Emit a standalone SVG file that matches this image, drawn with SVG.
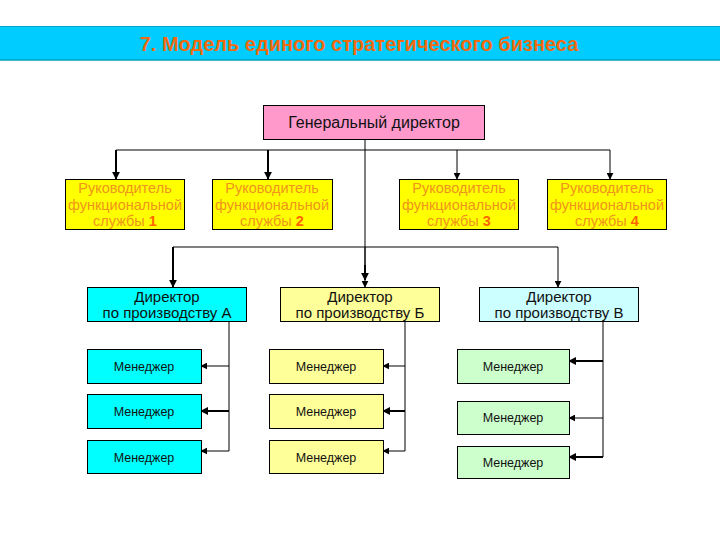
<svg xmlns="http://www.w3.org/2000/svg" width="720" height="540" viewBox="0 0 720 540">
<style>
text{font-family:"Liberation Sans",Arial,sans-serif;text-anchor:middle}
.t{font-size:15px;fill:#111}
.g{font-size:16px;fill:#111}
.f{font-size:14.5px;fill:#f0951c}
.n{font-weight:bold;fill:#ff6600}
.m{font-size:12.5px;fill:#111}
.box{stroke:#000;stroke-width:1}
.c{fill:none;stroke:#000;stroke-width:1}
.d{fill:none;stroke:#000;stroke-width:2}
</style>
<defs>
<marker id="ah" viewBox="0 0 10 10" refX="9" refY="5" markerWidth="4" markerHeight="4" orient="auto" markerUnits="strokeWidth">
<path d="M0,0 L10,5 L0,10 z" fill="#000"/>
</marker>
<marker id="ah1" viewBox="0 0 10 10" refX="9" refY="5" markerWidth="7" markerHeight="7" orient="auto" markerUnits="strokeWidth">
<path d="M0,0 L10,5 L0,10 z" fill="#000"/>
</marker>
</defs>
<rect width="720" height="540" fill="#fff"/>
<g id="title">
<rect x="0" y="26" width="720" height="34" fill="#00ccff"/>
<line x1="0" y1="26.5" x2="720" y2="26.5" stroke="#00a8c8" stroke-width="1"/>
<line x1="0" y1="60" x2="720" y2="60" stroke="#00a0c0" stroke-width="1.5"/>
<text x="359" y="51" style="font-size:20px;font-weight:bold;fill:#f06a10">7. Модель единого стратегического бизнеса</text>
</g>
<g id="connectors">
<path class="c" d="M365,139 V280"/>
<path class="d" d="M365,265 V280" marker-end="url(#ah)"/>
<path class="c" d="M116,150 H610"/>
<path class="d" d="M116,150 V179" marker-end="url(#ah)"/>
<path class="d" d="M268,150 V179" marker-end="url(#ah)"/>
<path class="c" d="M457,150 V179" marker-end="url(#ah1)"/>
<path class="c" d="M610,150 V179" marker-end="url(#ah1)"/>
<path class="c" d="M173,247 H558"/>
<path class="d" d="M173,247 V287" marker-end="url(#ah)"/>
<path class="c" d="M365,247 V287" marker-end="url(#ah1)"/>
<path class="c" d="M558,247 V287" marker-end="url(#ah1)"/>
<path class="c" d="M229,321 V451 H201" marker-end="url(#ah1)"/>
<path class="c" d="M229,366 H201" marker-end="url(#ah1)"/>
<path class="d" d="M229,411 H201" marker-end="url(#ah)"/>
<path class="c" d="M405,321 V451 H383" marker-end="url(#ah1)"/>
<path class="c" d="M405,366 H383" marker-end="url(#ah1)"/>
<path class="d" d="M405,411 H383" marker-end="url(#ah)"/>
<path class="c" d="M603,321 V457"/>
<path class="d" d="M603,361 H569" marker-end="url(#ah)"/>
<path class="c" d="M603,418 H569" marker-end="url(#ah1)"/>
<path class="d" d="M603,457 H569" marker-end="url(#ah)"/>
</g>
<g id="gd">
<rect class="box" x="263.5" y="105.5" width="221" height="34" fill="#ff99cc"/>
<text class="g" x="374" y="128">Генеральный директор</text>
</g>
<g id="f1">
<rect class="box" x="65.5" y="179.5" width="119" height="50" fill="#ffff00"/>
<text class="f" x="125" y="193">Руководитель</text>
<text class="f" x="125" y="210">функциональной</text>
<text class="f" x="125" y="226">службы <tspan class="n">1</tspan></text>
</g>
<g id="f2">
<rect class="box" x="212.5" y="179.5" width="120" height="50" fill="#ffff00"/>
<text class="f" x="272" y="193">Руководитель</text>
<text class="f" x="272" y="210">функциональной</text>
<text class="f" x="272" y="226">службы <tspan class="n">2</tspan></text>
</g>
<g id="f3">
<rect class="box" x="399.5" y="179.5" width="119" height="50" fill="#ffff00"/>
<text class="f" x="459" y="193">Руководитель</text>
<text class="f" x="459" y="210">функциональной</text>
<text class="f" x="459" y="226">службы <tspan class="n">3</tspan></text>
</g>
<g id="f4">
<rect class="box" x="547.5" y="179.5" width="119" height="50" fill="#ffff00"/>
<text class="f" x="607" y="193">Руководитель</text>
<text class="f" x="607" y="210">функциональной</text>
<text class="f" x="607" y="226">службы <tspan class="n">4</tspan></text>
</g>
<g id="dA">
<rect class="box" x="87.5" y="287.5" width="159" height="34" fill="#00ffff"/>
<text class="t" x="167" y="302">Директор</text>
<text class="t" x="167" y="318">по производству А</text>
</g>
<g id="dB">
<rect class="box" x="280.5" y="287.5" width="159" height="34" fill="#ffff99"/>
<text class="t" x="360" y="302">Директор</text>
<text class="t" x="360" y="318">по производству Б</text>
</g>
<g id="dV">
<rect class="box" x="479.5" y="287.5" width="159" height="34" fill="#ccffff"/>
<text class="t" x="559" y="302">Директор</text>
<text class="t" x="559" y="318">по производству В</text>
</g>
<g id="mA1"><rect class="box" x="87.5" y="349.5" width="114" height="34" fill="#00ffff"/><text class="m" x="144" y="371">Менеджер</text></g>
<g id="mA2"><rect class="box" x="87.5" y="394.5" width="114" height="34" fill="#00ffff"/><text class="m" x="144" y="416">Менеджер</text></g>
<g id="mA3"><rect class="box" x="87.5" y="440.5" width="114" height="33" fill="#00ffff"/><text class="m" x="144" y="462">Менеджер</text></g>
<g id="mB1"><rect class="box" x="269.5" y="349.5" width="114" height="34" fill="#ffff99"/><text class="m" x="326" y="371">Менеджер</text></g>
<g id="mB2"><rect class="box" x="269.5" y="394.5" width="114" height="34" fill="#ffff99"/><text class="m" x="326" y="416">Менеджер</text></g>
<g id="mB3"><rect class="box" x="269.5" y="440.5" width="114" height="33" fill="#ffff99"/><text class="m" x="326" y="462">Менеджер</text></g>
<g id="mV1"><rect class="box" x="457.5" y="349.5" width="112" height="34" fill="#ccffcc"/><text class="m" x="513" y="371">Менеджер</text></g>
<g id="mV2"><rect class="box" x="457.5" y="401.5" width="112" height="33" fill="#ccffcc"/><text class="m" x="513" y="422">Менеджер</text></g>
<g id="mV3"><rect class="box" x="457.5" y="446.5" width="112" height="32" fill="#ccffcc"/><text class="m" x="513" y="467">Менеджер</text></g>
</svg>
